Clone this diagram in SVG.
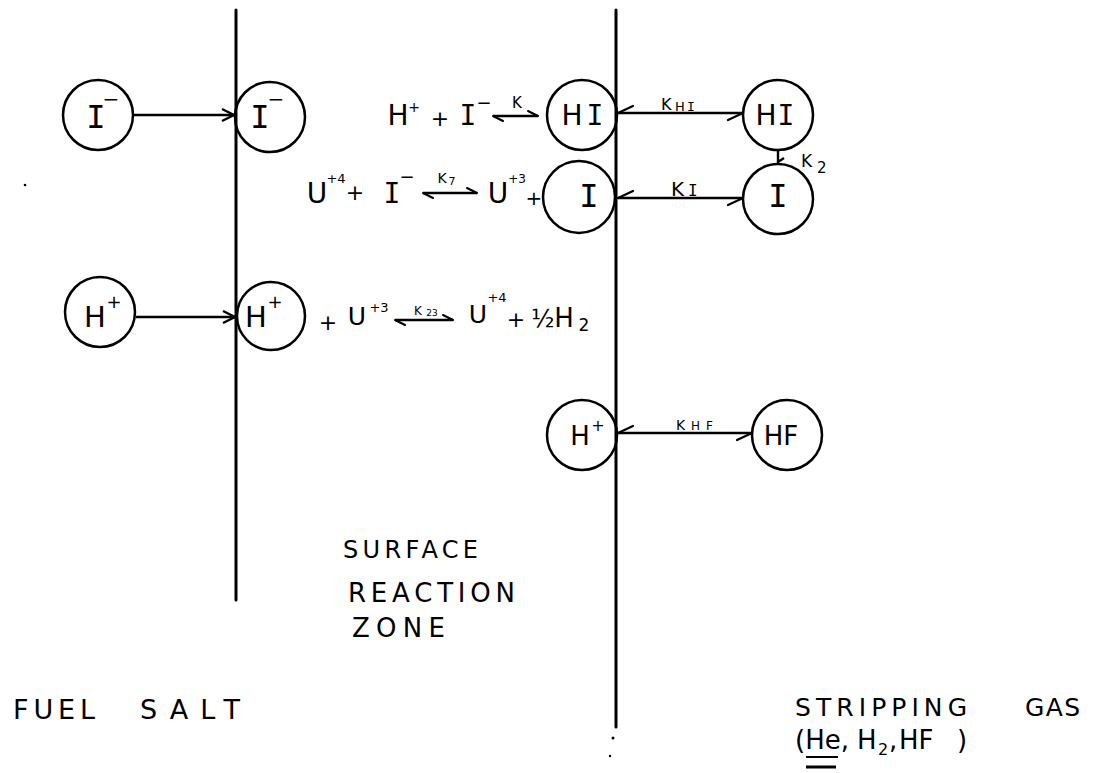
<svg xmlns="http://www.w3.org/2000/svg" width="1095" height="773" viewBox="0 0 1095 773">
<style>
  .bg{fill:#fff}
  .wall{stroke:#000;stroke-width:3;fill:none;stroke-linecap:round}
  .node circle{fill:none;stroke:#000;stroke-width:2.5}
  .con{stroke:#000;stroke-width:2.4;fill:none}
  .t{font-family:"DejaVu Sans","Liberation Sans",sans-serif;fill:#000}
  .m{font-family:"DejaVu Sans Mono","Liberation Mono",monospace}
  .dot{fill:#000}
</style>
<defs>
  <marker id="open" viewBox="0 0 14 14" refX="13" refY="7" markerWidth="14" markerHeight="14" markerUnits="userSpaceOnUse" orient="auto" overflow="visible">
    <path d="M1,1 L13,7 L1,13" fill="none" stroke="#000" stroke-width="2.4" stroke-linejoin="miter"/>
  </marker>
  <marker id="hc" viewBox="0 0 16 8" refX="16" refY="0" markerWidth="16" markerHeight="8" markerUnits="userSpaceOnUse" orient="auto-start-reverse" overflow="visible">
    <path d="M1,7 L16,0" fill="none" stroke="#000" stroke-width="2.2" stroke-linecap="round"/>
  </marker>
  <marker id="hr" viewBox="0 0 10 6" refX="10" refY="0" markerWidth="10" markerHeight="6" markerUnits="userSpaceOnUse" orient="auto-start-reverse" overflow="visible">
    <path d="M0,-5 L10,0" fill="none" stroke="#000" stroke-width="2" stroke-linecap="round"/>
  </marker>
</defs>
<rect class="bg" x="0" y="0" width="1095" height="773"/>

<g id="walls">
  <line class="wall" x1="236" y1="10" x2="236" y2="600"/>
  <line class="wall" x1="616" y1="10" x2="616" y2="727"/>
</g>

<g id="connectors">
  <line class="con" x1="133" y1="115" x2="234" y2="115" marker-end="url(#open)"/>
  <line class="con" x1="136" y1="317" x2="235" y2="317" marker-end="url(#open)"/>
  <line class="con" x1="618" y1="113" x2="743" y2="113" marker-start="url(#hc)" marker-end="url(#hc)"/>
  <line class="con" x1="618" y1="198" x2="743" y2="198" marker-start="url(#hc)" marker-end="url(#hc)"/>
  <line class="con" x1="618" y1="433" x2="752" y2="433" marker-start="url(#hc)" marker-end="url(#hc)"/>
  <path class="con" d="M778,150 L778,165 M778,162 L784,158"/>
  <line class="con" x1="493" y1="116" x2="538" y2="116" stroke-width="2" marker-start="url(#hr)" marker-end="url(#hr)"/>
  <line class="con" x1="423" y1="193" x2="477" y2="193" stroke-width="2" marker-start="url(#hr)" marker-end="url(#hr)"/>
  <line class="con" x1="395" y1="320" x2="453" y2="320" stroke-width="2" marker-start="url(#hr)" marker-end="url(#hr)"/>
</g>

<g id="node-I-salt" class="node">
  <circle cx="98" cy="115" r="35"/>
  <text class="t" text-anchor="middle"><tspan class="m" x="96" y="128" font-size="32">I</tspan><tspan x="111" y="106" font-size="20">−</tspan></text>
</g>
<g id="node-I-surface" class="node">
  <circle cx="270" cy="117" r="35"/>
  <text class="t" text-anchor="middle"><tspan class="m" x="260" y="128" font-size="32">I</tspan><tspan x="276" y="106" font-size="20">−</tspan></text>
</g>
<g id="node-H-salt" class="node">
  <circle cx="100" cy="312" r="35"/>
  <text class="t" text-anchor="middle"><tspan x="95" y="327" font-size="29">H</tspan><tspan x="114" y="308" font-size="18">+</tspan></text>
</g>
<g id="node-H-surface" class="node">
  <circle cx="271" cy="316" r="34"/>
  <text class="t" text-anchor="middle"><tspan x="256" y="327" font-size="29">H</tspan><tspan x="275" y="308" font-size="18">+</tspan></text>
</g>
<g id="node-HI-surface" class="node">
  <circle cx="582" cy="115" r="35"/>
  <text class="t" text-anchor="middle" font-size="28"><tspan x="572" y="125">H</tspan><tspan class="m" x="595" y="125">I</tspan></text>
</g>
<g id="node-Iatom-surface" class="node">
  <circle cx="579" cy="197" r="36"/>
  <text class="t m" text-anchor="middle" x="589" y="207" font-size="32">I</text>
</g>
<g id="node-HI-gas" class="node">
  <circle cx="778" cy="115" r="35"/>
  <text class="t" text-anchor="middle" font-size="28"><tspan x="766" y="125">H</tspan><tspan class="m" x="786" y="125">I</tspan></text>
</g>
<g id="node-Iatom-gas" class="node">
  <circle cx="778" cy="199" r="35"/>
  <text class="t m" text-anchor="middle" x="778" y="207" font-size="32">I</text>
</g>
<g id="node-H-lower" class="node">
  <circle cx="582" cy="435" r="35"/>
  <text class="t" text-anchor="middle"><tspan x="580" y="445" font-size="26">H</tspan><tspan x="598" y="431" font-size="16">+</tspan></text>
</g>
<g id="node-HF-gas" class="node">
  <circle cx="787" cy="435" r="35"/>
  <text class="t" text-anchor="middle" x="781" y="445" font-size="26">HF</text>
</g>

<g id="reaction-1">
  <text class="t" text-anchor="middle" font-size="28"><tspan x="398" y="125">H</tspan><tspan x="414" y="112" font-size="14">+</tspan><tspan x="440" y="126" font-size="22">+</tspan><tspan class="m" x="468" y="125">I</tspan><tspan x="484" y="109" font-size="18">−</tspan></text>
  <text class="t" x="512" y="108" font-size="15">K</text>
</g>
<g id="reaction-2">
  <text class="t" text-anchor="middle" font-size="28"><tspan x="317" y="203">U</tspan><tspan x="336" y="183" font-size="13">+4</tspan><tspan x="355" y="200" font-size="22">+</tspan><tspan class="m" x="392" y="203">I</tspan><tspan x="407" y="183" font-size="18">−</tspan><tspan x="498" y="203">U</tspan><tspan x="517" y="183" font-size="12">+3</tspan><tspan x="534" y="205" font-size="20">+</tspan></text>
  <text class="t" text-anchor="middle"><tspan x="442" y="183" font-size="14">K</tspan><tspan x="452" y="185" font-size="11">7</tspan></text>
</g>
<g id="reaction-3">
  <text class="t" text-anchor="middle" font-size="25"><tspan x="328" y="330" font-size="22">+</tspan><tspan x="357" y="325">U</tspan><tspan x="379" y="312" font-size="13">+3</tspan><tspan x="478" y="323">U</tspan><tspan x="497" y="302" font-size="13">+4</tspan><tspan x="516" y="327" font-size="22">+</tspan><tspan x="543" y="327" font-size="24">½</tspan><tspan x="564" y="327" font-size="26">H</tspan><tspan x="584" y="331" font-size="17">2</tspan></text>
  <text class="t" text-anchor="middle"><tspan x="418" y="315" font-size="12">K</tspan><tspan x="432" y="316" font-size="9">23</tspan></text>
</g>

<g id="rate-labels">
  <text class="t"><tspan x="661" y="110" font-size="16">K</tspan><tspan x="675" y="111" font-size="13">H</tspan><tspan class="m" x="687" y="111" font-size="13">I</tspan></text>
  <text class="t"><tspan x="671" y="196" font-size="20">K</tspan><tspan class="m" x="688" y="196" font-size="16">I</tspan></text>
  <text class="t"><tspan x="801" y="167" font-size="17">K</tspan><tspan x="817" y="173" font-size="15">2</tspan></text>
  <text class="t"><tspan x="676" y="430" font-size="14">K</tspan><tspan x="691" y="430" font-size="12">H</tspan><tspan x="706" y="430" font-size="12">F</tspan></text>
</g>

<g id="zone-labels">
  <text class="t" x="343" y="558" font-size="24" textLength="135" lengthAdjust="spacing">SURFACE</text>
  <text class="t" x="348" y="602" font-size="26" textLength="167" lengthAdjust="spacing">REACTION</text>
  <text class="t" x="352" y="637" font-size="26" textLength="93" lengthAdjust="spacing">ZONE</text>
  <text class="t" font-size="27"><tspan x="13" y="719" textLength="82" lengthAdjust="spacing">FUEL</tspan> <tspan x="140" y="719" textLength="100" lengthAdjust="spacing">SALT</tspan></text>
  <text class="t" font-size="25"><tspan x="795" y="716" textLength="172" lengthAdjust="spacing">STRIPPING</tspan> <tspan x="1025" y="716" textLength="55" lengthAdjust="spacing">GAS</tspan></text>
  <text class="t" font-size="26"><tspan x="795" y="749">(He,</tspan> <tspan x="857" y="749">H</tspan><tspan x="878" y="755" font-size="16">2</tspan><tspan x="889" y="749">,</tspan> <tspan x="899" y="749">HF</tspan><tspan x="957" y="749">)</tspan></text>
  <line x1="806" y1="757" x2="838" y2="757" stroke="#000" stroke-width="2"/>
  <line x1="806" y1="767" x2="836" y2="767" stroke="#000" stroke-width="3"/>
</g>

<g id="specks">
  <circle class="dot" cx="25" cy="185" r="1.3"/>
  <circle class="dot" cx="613" cy="738" r="1.5"/>
  <circle class="dot" cx="610" cy="756" r="1.2"/>
</g>
</svg>
